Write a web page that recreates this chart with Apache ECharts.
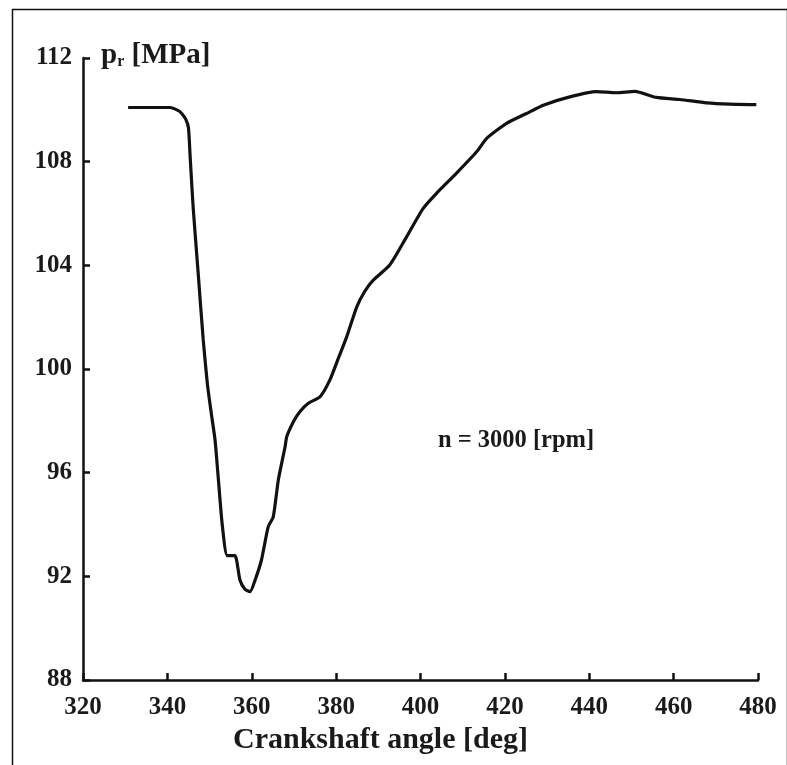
<!DOCTYPE html>
<html>
<head>
<meta charset="utf-8">
<script src="https://cdn.jsdelivr.net/npm/echarts@6/dist/echarts.min.js"></script>
<style>
html,body{margin:0;padding:0;background:#fff;}
#chart{width:787px;height:765px;}
</style>
</head>
<body>
<div id="chart"></div>
<script>
// Crankshaft angle [deg]
const angles = [330.7, 335, 340.6, 342.5, 343.4, 344.4, 345.0, 345.4, 346.1, 347.3, 348.5, 349.5, 350.4, 351.3, 352.1, 353.0, 354.2, 356.0, 357.2, 358.4, 359.6, 360.8, 362.3, 363.9, 365.1, 366.3, 367.9, 368.3, 370.0, 371.4, 373.4, 376.2, 378.5, 380.5, 382.5, 384.9, 386.8, 388.8, 392.7, 396.7, 400.6, 403.8, 408.5, 413.3, 415.7, 420.4, 425.0, 429.1, 435.4, 441.7, 446.4, 450.8, 455.9, 461.5, 467.8, 473.3, 479.6];
// p_r [MPa]
const pressure = [110.09, 110.09, 110.09, 109.98, 109.86, 109.62, 109.3, 108.19, 106.26, 103.70, 101.12, 99.4, 98.3, 97.26, 95.72, 94.0, 92.8, 92.8, 91.86, 91.50, 91.41, 91.86, 92.63, 93.91, 94.30, 95.72, 97.0, 97.39, 98.0, 98.35, 98.68, 98.93, 99.57, 100.4, 101.24, 102.40, 103.0, 103.43, 104.01, 105.10, 106.19, 106.78, 107.55, 108.38, 108.90, 109.48, 109.85, 110.18, 110.50, 110.70, 110.66, 110.71, 110.48, 110.40, 110.27, 110.22, 110.20];
const xTicks = [320, 480, 20];
const yTicks = [88, 112, 4];
const xTitle = 'Crankshaft angle [deg]';
const annotation = 'n = 3000 [rpm]';

const font = '"Liberation Serif", "Times New Roman", serif';
const chart = echarts.init(document.getElementById('chart'), null, {renderer: 'canvas'});
chart.setOption({
  animation: false,
  backgroundColor: '#fff',
  grid: {left: 83, right: 29, top: 58, bottom: 85},
  title: {
    text: '{p|p}{s|r}{u| [MPa]}',
    left: 96, top: 36,
    textStyle: {
      rich: {
        p: {fontFamily: font, fontWeight: 'bold', fontSize: 29, color: '#1a1a1a'},
        s: {fontFamily: font, fontWeight: 'bold', fontSize: 16, color: '#1a1a1a', verticalAlign: 'bottom', padding: [10, 0, 0, 0]},
        u: {fontFamily: font, fontWeight: 'bold', fontSize: 29, color: '#1a1a1a'}
      }
    }
  },
  xAxis: {
    type: 'value',
    min: xTicks[0], max: xTicks[1], interval: xTicks[2],
    name: xTitle,
    nameLocation: 'middle',
    nameGap: 44,
    nameTextStyle: {fontFamily: font, fontWeight: 'bold', fontSize: 30, color: '#1a1a1a', padding: [0, 80, 0, 0]},
    axisLine: {show: true, onZero: false, lineStyle: {color: '#111', width: 2.5}},
    axisTick: {show: true, inside: true, length: 7, lineStyle: {color: '#111', width: 2.5}},
    axisLabel: {fontFamily: font, fontWeight: 'bold', fontSize: 25, color: '#1a1a1a', margin: 15},
    splitLine: {show: false}
  },
  yAxis: {
    type: 'value',
    min: yTicks[0], max: yTicks[1], interval: yTicks[2],
    axisLine: {show: true, onZero: false, lineStyle: {color: '#111', width: 2.5}},
    axisTick: {show: true, inside: true, length: 7, lineStyle: {color: '#111', width: 2.5}},
    axisLabel: {fontFamily: font, fontWeight: 'bold', fontSize: 25, color: '#1a1a1a', margin: 11},
    splitLine: {show: false}
  },
  graphic: [
    {type: 'rect', left: 10, top: 7, shape: {width: 775, height: 780}, style: {fill: 'none', stroke: '#111', lineWidth: 1.5}, silent: true, z: -1},
    {type: 'text', left: 438, top: 428, style: {text: annotation, fontFamily: font, fontWeight: 'bold', fontSize: 24.5, fill: '#1a1a1a'}}
  ],
  series: [{
    type: 'line',
    data: angles.map((a, i) => [a, pressure[i]]),
    showSymbol: false,
    smooth: 0.2,
    lineStyle: {color: '#111', width: 3.2}
  }]
});
</script>
</body>
</html>
